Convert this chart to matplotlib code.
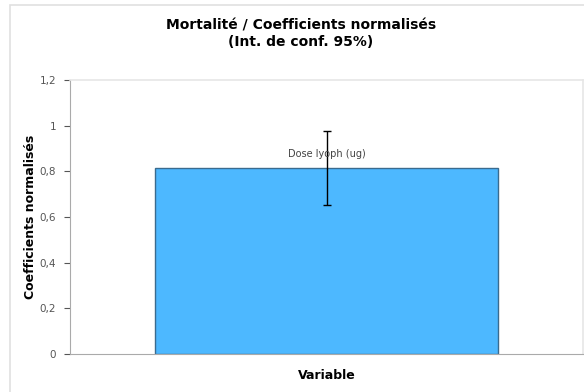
import matplotlib
matplotlib.use('Agg')
import matplotlib.pyplot as plt
from matplotlib.patches import Rectangle

# data
variables = ['Dose lyoph (ug)']
coefs = [0.815]
ci = [0.162]
yticks = [0, 0.2, 0.4, 0.6, 0.8, 1.0, 1.2]
ytick_labels = ['0', '0,2', '0,4', '0,6', '0,8', '1', '1,2']

fig = plt.figure(figsize=(5.84, 3.92), dpi=100)
fig.patch.set_facecolor('white')

# outer chart frame
fig.patches.append(Rectangle((10 / 584, -0.01), 1.0, 1.0 - 5 / 392 + 0.01,
                             transform=fig.transFigure, fill=False,
                             edgecolor='#e0e0e0', linewidth=1.2))

ax = fig.add_axes([70 / 584, 1 - 354 / 392, 513 / 584, 274 / 392])
ax.bar([0], coefs, width=1.0, color='#4db8ff', edgecolor='#3a6b8f', linewidth=1.0, zorder=2)
ax.errorbar([0], coefs, yerr=ci, fmt='none', ecolor='black', elinewidth=1.0,
            capsize=3, capthick=1.0, zorder=3)
ax.text(0, 0.855, variables[0], ha='center', va='bottom', fontsize=7, color='#444444', zorder=4)

ax.set_xlim(-0.748, 0.748)
ax.set_ylim(0, 1.2)
ax.set_yticks(yticks)
ax.set_yticklabels(ytick_labels)
ax.set_xticks([])
ax.tick_params(axis='y', labelsize=7.5, colors='#555555', length=4, width=0.8, direction='out', pad=6)
for lab in ax.get_yticklabels():
    lab.set_color('#555555')

for side in ['top', 'right']:
    ax.spines[side].set_color('#e6e6e6')
    ax.spines[side].set_linewidth(1.2)
for side in ['left', 'bottom']:
    ax.spines[side].set_color('#aaaaaa')
    ax.spines[side].set_linewidth(0.8)

ax.set_ylabel('Coefficients normalisés', fontsize=9, fontweight='bold', labelpad=2)
ax.set_xlabel('Variable', fontsize=9, fontweight='bold', labelpad=11)
fig.text(301 / 584, 1 - 34 / 392, 'Mortalité / Coefficients normalisés\n(Int. de conf. 95%)',
         ha='center', va='center', fontsize=10, fontweight='bold', linespacing=1.2)

fig.savefig('out.png', dpi=100)
